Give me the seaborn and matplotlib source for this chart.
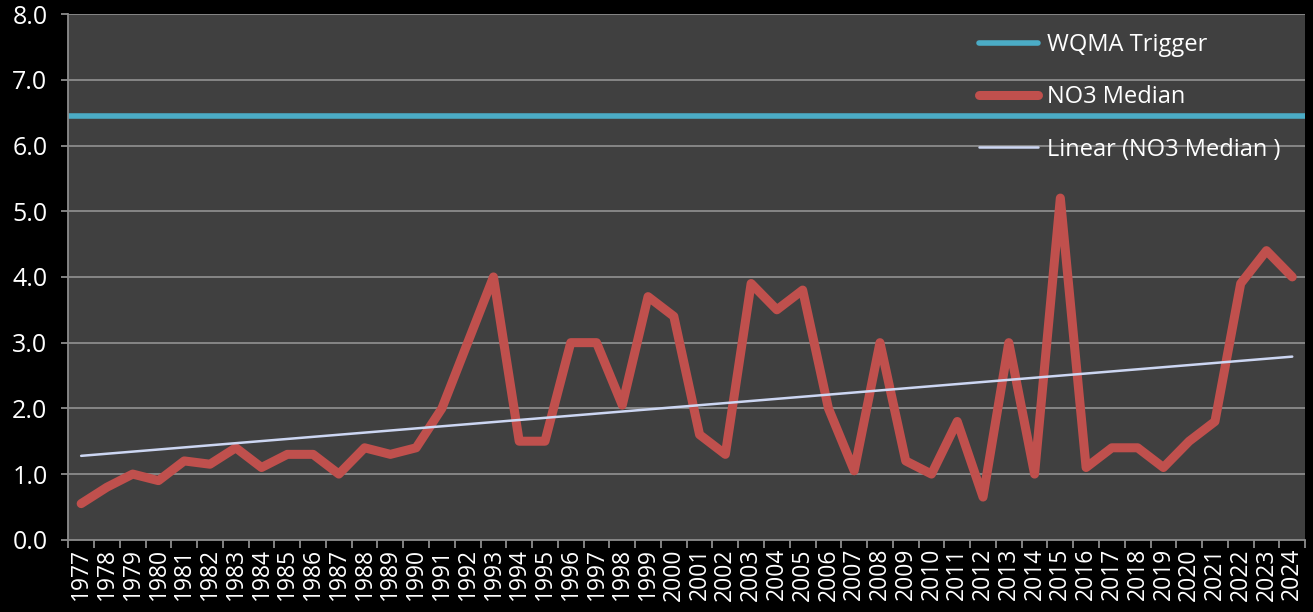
import numpy as np
import pandas as pd
import seaborn as sns
import matplotlib.pyplot as plt

# data
years = list(range(1977, 2025))
no3_median = [0.55, 0.8, 1.0, 0.9, 1.2, 1.15, 1.4, 1.1, 1.3, 1.3,
              1.0, 1.4, 1.3, 1.4, 2.0, 3.0, 4.0, 1.5, 1.5, 3.0,
              3.0, 2.05, 3.7, 3.4, 1.6, 1.3, 3.9, 3.5, 3.8, 2.0,
              1.05, 3.0, 1.2, 1.0, 1.8, 0.65, 3.0, 1.0, 5.2, 1.1,
              1.4, 1.4, 1.1, 1.5, 1.8, 3.9, 4.4, 4.0]
wqma_trigger = 6.45
y_ticks = [0, 1, 2, 3, 4, 5, 6, 7, 8]

df = pd.DataFrame({"pos": np.arange(len(years)), "year": years, "no3": no3_median})
# linear trend like excel's trendline
k, b = np.polyfit(df["pos"], df["no3"], 1)
df["trend"] = k * df["pos"] + b

sns.set_style("dark")
plt.rcParams["font.family"] = ["Open Sans", "DejaVu Sans"]

fig = plt.figure(figsize=(13.13, 6.12), dpi=100, facecolor="black")
ax = fig.add_axes([0.052, 0.118, 0.942, 0.859])
ax.set_facecolor("#404040")

grid_c = "#8c8c8c"
for v in y_ticks[1:]:
    ax.axhline(v, color=grid_c, lw=1.3, zorder=1)

ax.axhline(wqma_trigger, color="#4BACC6", lw=4, zorder=2, label="WQMA Trigger")
sns.lineplot(data=df, x="pos", y="no3", color="#C0504D", lw=6.5, ax=ax,
             zorder=3, label="NO3 Median", solid_capstyle="round", solid_joinstyle="round")
sns.lineplot(data=df, x="pos", y="trend", color="#CCD6F2", lw=1.8, ax=ax,
             zorder=4, label="Linear (NO3 Median )")

ax.set_xlim(-0.5, len(years) - 0.5)
ax.set_ylim(0, 8)
ax.set_yticks(y_ticks)
ax.set_yticklabels([f"{v:.1f}" for v in y_ticks])
ax.set_xticks(df["pos"])
ax.set_xticklabels([str(y) for y in years], rotation=90)
ax.set_xticks(np.arange(-0.5, len(years), 1), minor=True)
ax.tick_params(axis="x", which="major", length=0, pad=6, labelsize=16.5, colors="white")
ax.tick_params(axis="x", which="minor", length=6, width=1.3, color=grid_c, bottom=True)
ax.tick_params(axis="y", length=5, width=1.3, color=grid_c, labelsize=18, colors="white",
               left=True, pad=10)
ax.set_xlabel("")
ax.set_ylabel("")

for s in ["top", "right"]:
    ax.spines[s].set_visible(False)
for s in ["left", "bottom"]:
    ax.spines[s].set_color(grid_c)
    ax.spines[s].set_linewidth(1.3)

ax.legend(loc="upper left", bbox_to_anchor=(0.729, 0.982), frameon=False,
          fontsize=17, labelcolor="white", labelspacing=1.2, borderaxespad=0,
          handlelength=2.5, handletextpad=0.35)

fig.savefig("out.png", dpi=100, facecolor="black")
